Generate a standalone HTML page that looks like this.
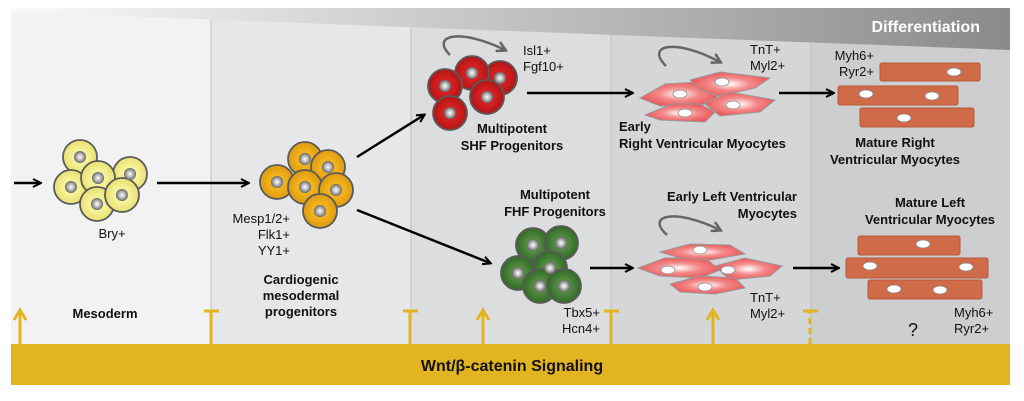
<!DOCTYPE html>
<html><head><meta charset="utf-8"><style>
html,body{margin:0;padding:0;background:#fff}
svg{display:block}
text{font-family:"Liberation Sans",sans-serif;}
.b{font-weight:bold;font-size:13px;fill:#111}
.n{font-size:13px;fill:#111}
</style></head><body>
<svg width="1024" height="401" viewBox="0 0 1024 401">
<defs>
<linearGradient id="wedge" x1="0" x2="1" y1="0" y2="0"><stop offset="0" stop-color="#fafafa"/><stop offset="1" stop-color="#8a8a8a"/></linearGradient>
<radialGradient id="nuc"><stop offset="0" stop-color="#fff"/><stop offset="0.5" stop-color="#bbb"/><stop offset="1" stop-color="#666"/></radialGradient>
<radialGradient id="yel"><stop offset="0.45" stop-color="#f6f29a"/><stop offset="1" stop-color="#e8e070"/></radialGradient>
<radialGradient id="ora"><stop offset="0.45" stop-color="#f2b21c"/><stop offset="1" stop-color="#dd9a10"/></radialGradient>
<radialGradient id="red"><stop offset="0.45" stop-color="#d42020"/><stop offset="1" stop-color="#b01515"/></radialGradient>
<radialGradient id="grn"><stop offset="0.3" stop-color="#5a9048"/><stop offset="1" stop-color="#2f6a24"/></radialGradient>
<radialGradient id="pink"><stop offset="0" stop-color="#fff"/><stop offset="0.5" stop-color="#f48a8a"/><stop offset="1" stop-color="#ea5a5e"/></radialGradient>
<marker id="ah" markerWidth="10" markerHeight="10" refX="8" refY="5" orient="auto" markerUnits="userSpaceOnUse"><path d="M1,1 L9,5 L1,9" fill="none" stroke="#000" stroke-width="2"/></marker>
<marker id="gh" markerWidth="12" markerHeight="12" refX="9" refY="6" orient="auto" markerUnits="userSpaceOnUse"><path d="M1,1 L10,6 L1,11" fill="none" stroke="#666" stroke-width="2.5"/></marker>
</defs>
<rect x="11" y="9" width="200" height="376" fill="#f2f2f2"/>
<rect x="211" y="9" width="200" height="376" fill="#e6e7e9"/>
<rect x="411" y="9" width="200" height="376" fill="#dcdddf"/>
<rect x="611" y="9" width="200" height="376" fill="#d5d6d8"/>
<rect x="811" y="9" width="199" height="376" fill="#cdcecf"/>
<g stroke="#bdbdbd" stroke-width="1">
<line x1="211" y1="15" x2="211" y2="344"/><line x1="411" y1="22" x2="411" y2="344"/>
<line x1="611" y1="30" x2="611" y2="344"/><line x1="811" y1="40" x2="811" y2="344"/>
</g>
<polygon points="11,8 1010,8 1010,50 11,12" fill="url(#wedge)"/>
<text x="980" y="32" text-anchor="end" style="font-weight:bold;font-size:16px;fill:#fff">Differentiation</text>
<rect x="11" y="344" width="999" height="41" fill="#e3b421"/>
<text x="512" y="371" text-anchor="middle" style="font-weight:bold;font-size:16px;fill:#111">Wnt/β-catenin Signaling</text>
<g stroke="#e3b421" stroke-width="3" fill="none">
<line x1="20" y1="344" x2="20" y2="312"/><path d="M14,320 L20,310 L26,320"/>
<line x1="483" y1="344" x2="483" y2="312"/><path d="M477,320 L483,310 L489,320"/>
<line x1="713" y1="344" x2="713" y2="312"/><path d="M707,320 L713,310 L719,320"/>
<line x1="211" y1="344" x2="211" y2="311"/><line x1="204" y1="311" x2="219" y2="311"/>
<line x1="410" y1="344" x2="410" y2="311"/><line x1="403" y1="311" x2="418" y2="311"/>
<line x1="611" y1="344" x2="611" y2="311"/><line x1="604" y1="311" x2="619" y2="311"/>
<line x1="810" y1="344" x2="810" y2="311" stroke-dasharray="6,4"/><line x1="803" y1="311" x2="818" y2="311"/>
</g>
<g stroke="#000" stroke-width="2.5" marker-end="url(#ah)">
<line x1="14" y1="183" x2="40" y2="183"/>
<line x1="157" y1="183" x2="248" y2="183"/>
<line x1="357" y1="157" x2="424" y2="115"/>
<line x1="357" y1="210" x2="490" y2="263"/>
<line x1="527" y1="93" x2="632" y2="93"/>
<line x1="779" y1="93" x2="833" y2="93"/>
<line x1="590" y1="268" x2="632" y2="268"/>
<line x1="793" y1="268" x2="838" y2="268"/>
</g>
<g stroke="#5a5a5a" stroke-width="1.8">
<g fill="url(#yel)">
<circle cx="80" cy="157" r="17"/><circle cx="130" cy="174" r="17"/><circle cx="71" cy="187" r="17"/><circle cx="98" cy="178" r="17"/><circle cx="97" cy="204" r="17"/><circle cx="122" cy="195" r="17"/>
</g>
<g fill="url(#ora)">
<circle cx="305" cy="159" r="17"/><circle cx="328" cy="167" r="17"/><circle cx="277" cy="182" r="17"/><circle cx="305" cy="187" r="17"/><circle cx="336" cy="190" r="17"/><circle cx="320" cy="211" r="17"/>
</g>
<g fill="url(#red)">
<circle cx="500" cy="78" r="17"/><circle cx="472" cy="73" r="17"/><circle cx="445" cy="86" r="17"/><circle cx="487" cy="97" r="17"/><circle cx="450" cy="113" r="17"/>
</g>
<g fill="url(#grn)">
<circle cx="533" cy="245" r="17"/><circle cx="561" cy="243" r="17"/><circle cx="518" cy="273" r="17"/><circle cx="550" cy="268" r="17"/><circle cx="540" cy="286" r="17"/><circle cx="564" cy="286" r="17"/>
</g>
</g>
<g fill="url(#nuc)">
<circle cx="80" cy="157" r="6"/><circle cx="130" cy="174" r="6"/><circle cx="71" cy="187" r="6"/><circle cx="98" cy="178" r="6"/><circle cx="97" cy="204" r="6"/><circle cx="122" cy="195" r="6"/>
<circle cx="305" cy="159" r="6"/><circle cx="328" cy="167" r="6"/><circle cx="277" cy="182" r="6"/><circle cx="305" cy="187" r="6"/><circle cx="336" cy="190" r="6"/><circle cx="320" cy="211" r="6"/>
<circle cx="500" cy="78" r="6"/><circle cx="472" cy="73" r="6"/><circle cx="445" cy="86" r="6"/><circle cx="487" cy="97" r="6"/><circle cx="450" cy="113" r="6"/>
<circle cx="533" cy="245" r="6"/><circle cx="561" cy="243" r="6"/><circle cx="518" cy="273" r="6"/><circle cx="550" cy="268" r="6"/><circle cx="540" cy="286" r="6"/><circle cx="564" cy="286" r="6"/>
</g>
<g fill="none" stroke="#666" stroke-width="2.5" marker-end="url(#gh)">
<path d="M450,55 C430,35 460,28 505,50"/>
<path d="M666,66 C645,45 675,38 720,62"/>
<path d="M667,235 C645,215 675,208 720,230"/>
</g>
<g fill="url(#pink)" stroke="#999" stroke-width="1">
<polygon points="640,98 665,84 700,82 718,94 712,104 660,106"/>
<polygon points="690,80 720,72 770,78 755,88 720,96 700,90"/>
<polygon points="645,115 672,104 700,104 715,112 705,122 660,120"/>
<polygon points="704,103 730,92 775,100 760,112 720,116"/>
<polygon points="638,268 665,258 705,258 720,270 700,278 660,276"/>
<polygon points="660,252 690,244 730,245 745,254 710,260 680,258"/>
<polygon points="715,266 745,258 782,266 770,276 730,280"/>
<polygon points="670,284 700,276 735,278 745,288 715,294 680,292"/>
</g>
<g fill="#fff" stroke="#888" stroke-width="0.8">
<ellipse cx="680" cy="94" rx="7" ry="4"/><ellipse cx="722" cy="82" rx="7" ry="4"/><ellipse cx="685" cy="113" rx="7" ry="4"/><ellipse cx="733" cy="105" rx="7" ry="4"/>
<ellipse cx="700" cy="250" rx="7" ry="4"/><ellipse cx="668" cy="270" rx="7" ry="4"/><ellipse cx="728" cy="270" rx="7" ry="4"/><ellipse cx="705" cy="287" rx="7" ry="4"/>
</g>
<g fill="#cf6b48" stroke="#b85a3c" stroke-width="1">
<rect x="880" y="63" width="100" height="18" rx="2"/>
<rect x="838" y="86" width="120" height="19" rx="2"/>
<rect x="860" y="108" width="114" height="19" rx="2"/>
<rect x="858" y="236" width="102" height="19" rx="2"/>
<rect x="846" y="258" width="142" height="20" rx="2"/>
<rect x="868" y="280" width="114" height="19" rx="2"/>
</g>
<g fill="#fff" stroke="#888" stroke-width="0.8">
<ellipse cx="954" cy="72" rx="7" ry="4"/><ellipse cx="866" cy="94" rx="7" ry="4"/><ellipse cx="932" cy="96" rx="7" ry="4"/><ellipse cx="904" cy="118" rx="7" ry="4"/>
<ellipse cx="923" cy="244" rx="7" ry="4"/><ellipse cx="870" cy="266" rx="7" ry="4"/><ellipse cx="966" cy="267" rx="7" ry="4"/><ellipse cx="894" cy="289" rx="7" ry="4"/><ellipse cx="940" cy="290" rx="7" ry="4"/>
</g>
<text class="n" x="112" y="238" text-anchor="middle">Bry+</text>
<text class="b" x="105" y="318" text-anchor="middle">Mesoderm</text>
<text class="n" x="290" y="223" text-anchor="end">Mesp1/2+</text>
<text class="n" x="290" y="239" text-anchor="end">Flk1+</text>
<text class="n" x="290" y="255" text-anchor="end">YY1+</text>
<text class="b" x="301" y="284" text-anchor="middle">Cardiogenic</text>
<text class="b" x="301" y="300" text-anchor="middle">mesodermal</text>
<text class="b" x="301" y="316" text-anchor="middle">progenitors</text>
<text class="n" x="523" y="55">Isl1+</text>
<text class="n" x="523" y="71">Fgf10+</text>
<text class="b" x="512" y="133" text-anchor="middle">Multipotent</text>
<text class="b" x="512" y="150" text-anchor="middle">SHF Progenitors</text>
<text class="b" x="555" y="199" text-anchor="middle">Multipotent</text>
<text class="b" x="555" y="216" text-anchor="middle">FHF Progenitors</text>
<text class="n" x="600" y="317" text-anchor="end">Tbx5+</text>
<text class="n" x="600" y="333" text-anchor="end">Hcn4+</text>
<text class="n" x="750" y="54">TnT+</text>
<text class="n" x="750" y="70">Myl2+</text>
<text class="b" x="619" y="131">Early</text>
<text class="b" x="619" y="148">Right Ventricular Myocytes</text>
<text class="b" x="797" y="201" text-anchor="end">Early Left Ventricular</text>
<text class="b" x="797" y="218" text-anchor="end">Myocytes</text>
<text class="n" x="750" y="302">TnT+</text>
<text class="n" x="750" y="318">Myl2+</text>
<text class="n" x="874" y="60" text-anchor="end">Myh6+</text>
<text class="n" x="874" y="76" text-anchor="end">Ryr2+</text>
<text class="b" x="895" y="147" text-anchor="middle">Mature Right</text>
<text class="b" x="895" y="164" text-anchor="middle">Ventricular Myocytes</text>
<text class="b" x="930" y="207" text-anchor="middle">Mature Left</text>
<text class="b" x="930" y="224" text-anchor="middle">Ventricular Myocytes</text>
<text class="n" x="954" y="317">Myh6+</text>
<text class="n" x="954" y="333">Ryr2+</text>
<text x="913" y="336" text-anchor="middle" style="font-size:18px;fill:#111">?</text>
</svg>
</body></html>
